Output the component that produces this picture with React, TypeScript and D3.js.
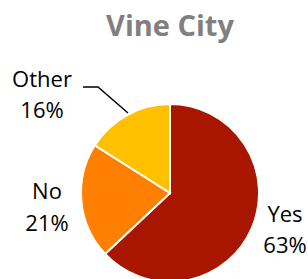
import React, { useEffect, useRef } from 'react';
import * as d3 from 'd3';

const categories = ['Yes', 'No', 'Other'];
const values = [63, 21, 16];
const colors = ['#A81600', '#FF8000', '#FFC000'];

const App = () => {
  const ref = useRef<SVGSVGElement>(null);

  useEffect(() => {
    const svg = d3.select(ref.current);
    svg.selectAll('*').remove();

    const width = 308;
    const height = 279;
    const cx = 170;
    const cy = 193;
    const radius = 89;
    const font = '"Open Sans", sans-serif';

    svg.append('rect').attr('width', width).attr('height', height).attr('fill', '#fff');

    // Title
    svg.append('text')
      .attr('x', 170)
      .attr('y', 36)
      .attr('text-anchor', 'middle')
      .style('font-family', font)
      .style('font-size', '29px')
      .style('font-weight', 'bold')
      .style('fill', '#808080')
      .text('Vine City');

    const data = categories.map((c, i) => ({ label: c, value: values[i], color: colors[i] }));
    const pie = d3.pie<any>().sort(null).value(d => d.value);
    const arc = d3.arc<any>().innerRadius(0).outerRadius(radius);

    const g = svg.append('g').attr('transform', `translate(${cx},${cy})`);
    g.selectAll('path')
      .data(pie(data))
      .enter()
      .append('path')
      .attr('d', arc)
      .attr('fill', d => d.data.color)
      .attr('stroke', '#fff')
      .attr('stroke-width', 2);

    // Labels
    const labels = [
      { x: 42, y1: 87, y2: 118 },
      { x: 47, y1: 199, y2: 231 },
      { x: 285, y1: 222, y2: 253 },
    ];
    const order = ['Other', 'No', 'Yes'];
    const total = d3.sum(values);
    order.forEach((name, i) => {
      const idx = categories.indexOf(name);
      const pct = Math.round((values[idx] / total) * 100);
      const pos = labels[i];
      svg.append('text')
        .attr('x', pos.x).attr('y', pos.y1)
        .attr('text-anchor', 'middle')
        .style('font-family', font).style('font-size', '22px').style('fill', '#000')
        .text(name);
      svg.append('text')
        .attr('x', pos.x).attr('y', pos.y2)
        .attr('text-anchor', 'middle')
        .style('font-family', font).style('font-size', '22px').style('fill', '#000')
        .text(`${pct}%`);
    });

    // Leader line for Other
    svg.append('path')
      .attr('d', d3.line()([[83, 87], [98, 87], [128, 113]]))
      .attr('fill', 'none')
      .attr('stroke', '#000')
      .attr('stroke-width', 1.5);
  }, []);

  return (
    <svg
      ref={ref}
      width={308}
      height={279}
      style={{ display: 'block', position: 'absolute', left: 0, top: 0 }}
    />
  );
};

export default App;
